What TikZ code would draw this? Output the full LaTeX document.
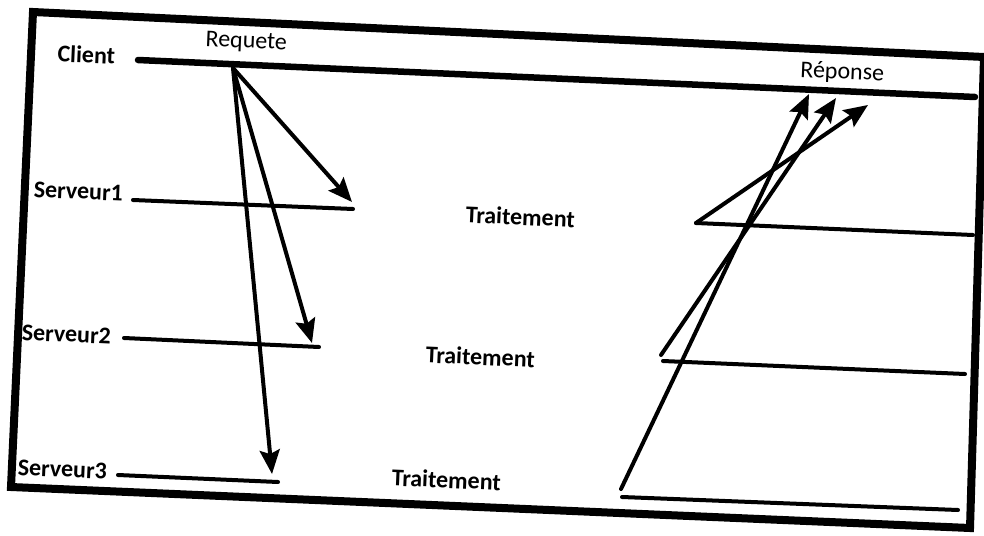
\documentclass[tikz,border=0pt]{standalone}
\usepackage{fontspec}
\setmainfont{Carlito}
\usetikzlibrary{arrows.meta}
\begin{document}
\begin{tikzpicture}[x=1pt,y=-1pt,
  lbl/.style={font=\fontsize{24}{26}\selectfont, rotate=-2.5, anchor=base, inner sep=0pt},
  lblb/.style={lbl, font=\fontsize{24}{26}\selectfont\bfseries},
  frame/.style={line width=8pt, line join=miter},
  clientline/.style={line width=6.5pt, line cap=round},
  srvline/.style={line width=4pt, line cap=round},
  msg/.style={line width=4pt, line cap=round, -{Stealth[length=24pt,width=20pt,inset=4pt]}}]
\useasboundingbox (0,0) rectangle (984,535);

% outer frame
\draw[frame] (33,12) -- (984,57) -- (970,528) -- (11,487) -- cycle;

% time lines
\coordinate (cA) at (138,60);   \coordinate (cB) at (975,97);
\coordinate (s1A) at (133,200); \coordinate (s1B) at (353,209);
\coordinate (s2A) at (124,338); \coordinate (s2B) at (319,347);
\coordinate (s3A) at (118,475); \coordinate (s3B) at (278,482);
\coordinate (r1A) at (696,223); \coordinate (r1B) at (973,235);
\coordinate (r2A) at (663,361); \coordinate (r2B) at (965,374);
\coordinate (r3A) at (622,497); \coordinate (r3B) at (958,510);

\draw[clientline] (cA) -- (cB);
\draw[srvline] (s1A) -- (s1B);
\draw[srvline] (s2A) -- (s2B);
\draw[srvline] (s3A) -- (s3B);
\draw[srvline] (r1A) -- (r1B);
\draw[srvline] (r2A) -- (r2B);
\draw[srvline] (r3A) -- (r3B);

% request fan-out
\coordinate (req) at (233,68);
\coordinate (t1) at (352,202);
\coordinate (t2) at (312,343);
\coordinate (t3) at (272,474);
\draw[msg] (req) -- (t1);
\draw[msg] (req) -- (t2);
\draw[msg] (req) -- (t3);

% responses
\coordinate (o2) at (661,355);
\coordinate (o3) at (621,489);
\coordinate (u1) at (868,105);
\coordinate (u2) at (836,98);
\coordinate (u3) at (809,94);
\draw[msg] (r1A) -- (u1);
\draw[msg] (o2) -- (u2);
\draw[msg] (o3) -- (u3);

% labels
\node[lblb] (client) at (86,63) {Client};
\node[lbl]  (requete) at (246,48) {Requete};
\node[lbl]  (reponse) at (842,79) {Réponse};
\node[lblb] (srv1) at (78,199) {Serveur1};
\node[lblb] (srv2) at (66,342) {Serveur2};
\node[lblb] (srv3) at (62,477) {Serveur3};
\node[lblb] (tr1) at (520,225) {Traitement};
\node[lblb] (tr2) at (480,365) {Traitement};
\node[lblb] (tr3) at (446,488) {Traitement};
\end{tikzpicture}
\end{document}
